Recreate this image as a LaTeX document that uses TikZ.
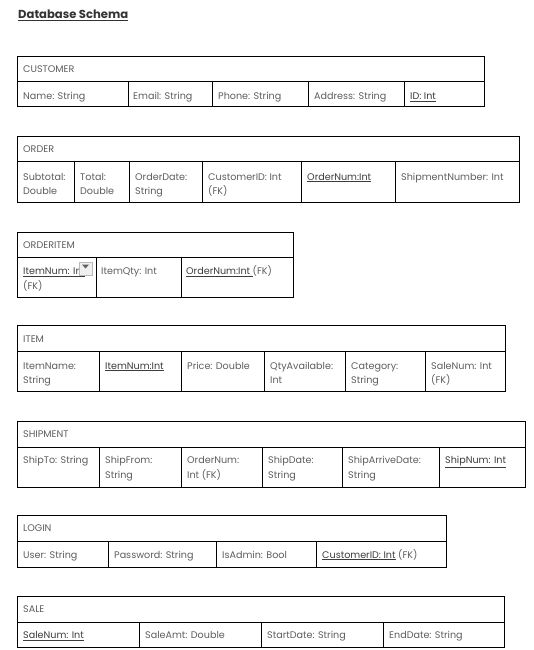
\documentclass[tikz,border=0pt]{standalone}
\usepackage{fontspec}
\setmainfont{Poppins}
\definecolor{txt}{HTML}{5E5E5E}
\definecolor{keytxt}{HTML}{3C3C3C}
\definecolor{ttl}{HTML}{333333}
\newcommand{\twoline}[2]{\begin{tabular}[t]{@{}l@{}}#1\\#2\end{tabular}}
\newcommand{\keyul}[1]{{\color{keytxt}\underline{#1}}}
\begin{document}
\begin{tikzpicture}[x=1pt,y=-1pt,
  tblbox/.style={draw=black,line width=0.9pt,inner sep=0pt,outer sep=0pt,anchor=north west},
  gridline/.style={draw=black,line width=0.9pt},
  hdr/.style={anchor=base west,inner sep=0pt,text=txt,font=\fontsize{9.6}{14.5}\selectfont},
  cell/.style={anchor=base west,inner sep=0pt,text=txt,font=\fontsize{9.6}{14.5}\selectfont},
  ddbox/.style={draw=gray!55,fill=gray!12,line width=0.5pt,inner sep=0pt,minimum size=13pt,anchor=north west}
]
\useasboundingbox[fill=white] (0,0) rectangle (533,650);

% title
\node[anchor=base west,inner sep=0pt,text=ttl,font=\bfseries\fontsize{11.6}{14}\selectfont] (title) at (18,19) {\underline{Database Schema}};

% CUSTOMER
\node[tblbox,minimum width=467pt,minimum height=50.5pt] (customer) at (17,56) {};
\draw[gridline] (17,81) -- (484,81);
\foreach \x in {128,212,308,404} \draw[gridline] (\x,81) -- (\x,106.5);
\node[hdr] (customer-h) at (23,73) {CUSTOMER};
\node[cell] (c1) at (23,99.5) {Name: String};
\node[cell] (c2) at (133,99.5) {Email: String};
\node[cell] (c3) at (218,99.5) {Phone: String};
\node[cell] (c4) at (314,99.5) {Address: String};
\node[cell] (c5) at (410,99.5) {\keyul{ID: Int}};

% ORDER
\node[tblbox,minimum width=502pt,minimum height=66pt] (order) at (17,136) {};
\draw[gridline] (17,161.5) -- (519,161.5);
\foreach \x in {74,129,202,301,395} \draw[gridline] (\x,161.5) -- (\x,202);
\node[hdr] (order-h) at (23,153) {ORDER};
\node[cell] (o1) at (23,180) {\twoline{Subtotal:}{Double}};
\node[cell] (o2) at (80,180) {\twoline{Total:}{Double}};
\node[cell] (o3) at (135,180) {\twoline{OrderDate:}{String}};
\node[cell] (o4) at (208,180) {\twoline{CustomerID: Int}{(FK)}};
\node[cell] (o5) at (307,180) {\keyul{OrderNum:Int}};
\node[cell] (o6) at (401,180) {ShipmentNumber: Int};

% ORDERITEM
\node[tblbox,minimum width=276pt,minimum height=65pt] (orderitem) at (17,232) {};
\draw[gridline] (17,257.5) -- (293,257.5);
\foreach \x in {96,181} \draw[gridline] (\x,257.5) -- (\x,297);
\node[hdr] (orderitem-h) at (23,248.5) {ORDERITEM};
\node[cell] (oi1) at (23,274.5) {\twoline{\keyul{ItemNum: Int}}{(FK)}};
\node[cell] (oi2) at (101,274.5) {ItemQty: Int};
\node[cell] (oi3) at (186,274.5) {\keyul{OrderNum:Int\ }(FK)};
\node[ddbox] (dd) at (78.5,262) {};
\fill[gray!75!black] (82,264.5) -- (89,264.5) -- (85.5,268.5) -- cycle;

% ITEM
\node[tblbox,minimum width=488pt,minimum height=66pt] (item) at (17,325) {};
\draw[gridline] (17,351) -- (505,351);
\foreach \x in {99,181,264,345,425} \draw[gridline] (\x,351) -- (\x,391);
\node[hdr] (item-h) at (23,342) {ITEM};
\node[cell] (i1) at (23,369) {\twoline{ItemName:}{String}};
\node[cell] (i2) at (105,369) {\keyul{ItemNum:Int}};
\node[cell] (i3) at (187,369) {Price: Double};
\node[cell] (i4) at (270,369) {\twoline{QtyAvailable:}{Int}};
\node[cell] (i5) at (351,369) {\twoline{Category:}{String}};
\node[cell] (i6) at (431,369) {\twoline{SaleNum: Int}{(FK)}};

% SHIPMENT
\node[tblbox,minimum width=508pt,minimum height=66pt] (shipment) at (17,421) {};
\draw[gridline] (17,447) -- (525,447);
\foreach \x in {99,181,262,342,439} \draw[gridline] (\x,447) -- (\x,487);
\node[hdr] (shipment-h) at (23,437.5) {SHIPMENT};
\node[cell] (s1) at (23,463.5) {ShipTo: String};
\node[cell] (s2) at (105,463.5) {\twoline{ShipFrom:}{String}};
\node[cell] (s3) at (187,463.5) {\twoline{OrderNum:}{Int (FK)}};
\node[cell] (s4) at (268,463.5) {\twoline{ShipDate:}{String}};
\node[cell] (s5) at (348,463.5) {\twoline{ShipArriveDate:}{String}};
\node[cell] (s6) at (445,463.5) {\keyul{ShipNum: Int}};

% LOGIN
\node[tblbox,minimum width=429pt,minimum height=52pt] (login) at (17,515) {};
\draw[gridline] (17,541) -- (446,541);
\foreach \x in {108,216,316} \draw[gridline] (\x,541) -- (\x,567);
\node[hdr] (login-h) at (23,531.5) {LOGIN};
\node[cell] (l1) at (23,558) {User: String};
\node[cell] (l2) at (114,558) {Password: String};
\node[cell] (l3) at (222,558) {IsAdmin: Bool};
\node[cell] (l4) at (322,558) {\keyul{CustomerID: Int}\ (FK)};

% SALE
\node[tblbox,minimum width=487pt,minimum height=51pt] (sale) at (17,596) {};
\draw[gridline] (17,622) -- (504,622);
\foreach \x in {139,261,383} \draw[gridline] (\x,622) -- (\x,647);
\node[hdr] (sale-h) at (23,612.5) {SALE};
\node[cell] (sa1) at (23,638.5) {\keyul{SaleNum: Int}};
\node[cell] (sa2) at (145,638.5) {SaleAmt: Double};
\node[cell] (sa3) at (267,638.5) {StartDate: String};
\node[cell] (sa4) at (389,638.5) {EndDate: String};
\end{tikzpicture}
\end{document}
